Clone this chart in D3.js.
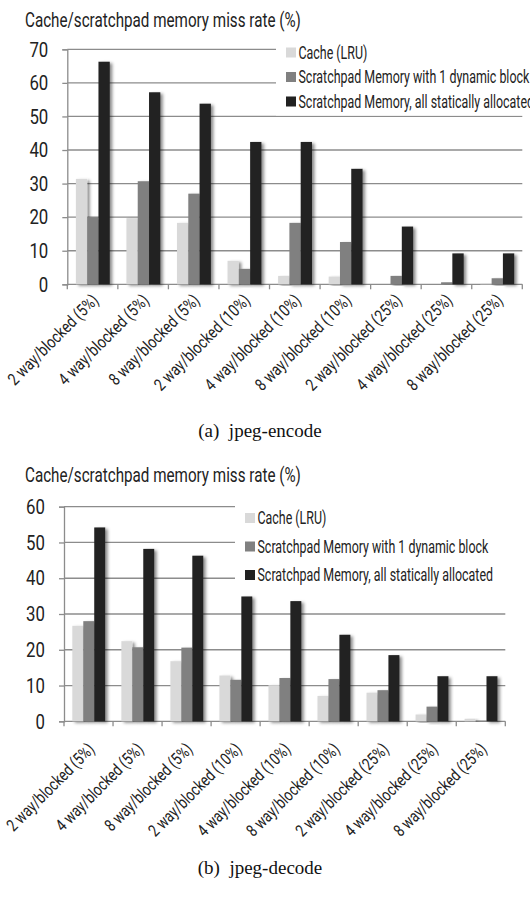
<!DOCTYPE html>
<html>
<head>
<meta charset="utf-8">
<script src="https://cdn.jsdelivr.net/npm/d3@7"></script>
<style>
  body { margin: 0; background: #fff; }
  svg { display: block; }
</style>
</head>
<body>
<div id="chart"></div>
<script>
// DATA
var categories = [
  "2 way/blocked (5%)", "4 way/blocked (5%)", "8 way/blocked (5%)",
  "2 way/blocked (10%)", "4 way/blocked (10%)", "8 way/blocked (10%)",
  "2 way/blocked (25%)", "4 way/blocked (25%)", "8 way/blocked (25%)"
];
var seriesNames = [
  "Cache (LRU)",
  "Scratchpad Memory with 1 dynamic block",
  "Scratchpad Memory, all statically allocated"
];
var encodeCache   = [31.4, 19.7, 18.3, 7.0, 2.5, 2.3, 0.0, 0.0, 0.2];
var encodeDynamic = [20.0, 30.7, 27.0, 4.6, 18.3, 12.6, 2.5, 0.6, 1.8];
var encodeStatic  = [66.3, 57.2, 53.8, 42.4, 42.4, 34.4, 17.2, 9.2, 9.2];
var decodeCache   = [26.7, 22.4, 16.8, 12.8, 10.1, 7.1, 8.0, 1.9, 0.7];
var decodeDynamic = [28.0, 20.7, 20.6, 11.6, 12.1, 11.8, 8.7, 4.1, 0.2];
var decodeStatic  = [54.2, 48.2, 46.3, 34.9, 33.6, 24.2, 18.5, 12.6, 12.6];
var encodeTicks = [0, 10, 20, 30, 40, 50, 60, 70];
var decodeTicks = [0, 10, 20, 30, 40, 50, 60];
var yTitle = "Cache/scratchpad memory miss rate (%)";

var series_color = ["#d9d9d9", "#808080", "#212121"];
var grid_color = "#8c8c8c";
var label_font = "Roboto, 'DejaVu Sans', sans-serif";

var svg = d3.select("#chart").append("svg")
  .attr("width", 530)
  .attr("height", 898);

var defs = svg.append("defs");
defs.append("filter")
    .attr("id", "shadow")
    .attr("x", "-50%").attr("y", "-10%")
    .attr("width", "200%").attr("height", "130%")
  .append("feDropShadow")
    .attr("dx", 2.5)
    .attr("dy", 1.5)
    .attr("stdDeviation", 1.8)
    .attr("flood-color", "#000")
    .attr("flood-opacity", 0.45);

// squeeze text horizontally to mimic the narrow font of the original.
// end-anchored text is turned into start-anchored text so it still ends at its anchor
function squeeze(sel, k) {
  sel.each(function() {
    var t = d3.select(this);
    var len = this.getComputedTextLength() * k;
    t.attr("textLength", len).attr("lengthAdjust", "spacingAndGlyphs");
    var anchor = t.attr("text-anchor") || this.parentNode.getAttribute("text-anchor");
    if (anchor == "end") {
      var x0 = +(t.attr("x") || 0);
      t.attr("text-anchor", "start").attr("x", x0 - len);
    }
  });
}

function drawChart(cfg) {
  var g = svg.append("g");
  var values = [cfg.cache, cfg.dynamic, cfg.stat];
  var ymax = cfg.ticks[cfg.ticks.length - 1];

  var x = d3.scaleBand()
    .domain(categories)
    .range([cfg.x0, cfg.x1])
    .padding(0);
  var bw = x.bandwidth();
  var xs = d3.scaleBand()
    .domain([0, 1, 2])
    .range([bw * 0.17, bw * 0.84])
    .padding(0);
  var y = d3.scaleLinear()
    .domain([0, ymax])
    .range([cfg.y0, cfg.ytop]);

  // title
  g.append("text")
    .attr("x", 25)
    .attr("y", cfg.titleY)
    .attr("font-family", label_font)
    .attr("font-size", 20)
    .attr("fill", "#222")
    .text(yTitle)
    .call(squeeze, 0.76);

  // gridlines
  g.append("g").selectAll("line")
    .data(cfg.ticks.filter(function(t) { return t > 0; }))
    .enter().append("line")
      .attr("x1", cfg.x0)
      .attr("x2", cfg.x1)
      .attr("y1", function(t) { return y(t); })
      .attr("y2", function(t) { return y(t); })
      .attr("stroke", grid_color)
      .attr("stroke-width", 1.3);

  // y axis
  var yAxis = g.append("g")
    .attr("transform", "translate(" + cfg.x0 + ",0)")
    .call(d3.axisLeft(y).tickValues(cfg.ticks).tickSize(5).tickPadding(14));
  yAxis.select(".domain").attr("stroke", grid_color).attr("stroke-width", 1.3);
  yAxis.selectAll(".tick line").attr("stroke", grid_color).attr("stroke-width", 1.3);
  yAxis.selectAll(".tick text")
    .attr("font-family", label_font)
    .attr("font-size", 21)
    .attr("fill", "#222")
    .call(squeeze, 0.8);

  // x axis line and ticks on category boundaries
  var bounds = categories.map(function(c) { return x(c); }).concat([cfg.x1]);
  g.append("line")
    .attr("x1", cfg.x0).attr("x2", cfg.x1)
    .attr("y1", cfg.y0).attr("y2", cfg.y0)
    .attr("stroke", grid_color)
    .attr("stroke-width", 1.3);
  g.append("g").selectAll("line")
    .data(bounds)
    .enter().append("line")
      .attr("x1", function(b) { return b; })
      .attr("x2", function(b) { return b; })
      .attr("y1", cfg.y0)
      .attr("y2", cfg.y0 + 5)
      .attr("stroke", grid_color)
      .attr("stroke-width", 1.3);

  // legend background hides the top gridlines
  g.append("rect")
    .attr("x", cfg.legX - 10)
    .attr("y", cfg.legY - 14)
    .attr("width", 530 - cfg.legX + 10)
    .attr("height", cfg.legStep * 2 + 28)
    .attr("fill", "#fff");

  // bars
  var groups = g.append("g").selectAll("g")
    .data(categories)
    .enter().append("g")
      .attr("transform", function(c) { return "translate(" + x(c) + ",0)"; });
  groups.selectAll("rect")
    .data(function(c, i) { return values.map(function(v, s) { return {s: s, v: v[i]}; }); })
    .enter().append("rect")
      .attr("x", function(d) { return xs(d.s); })
      .attr("width", xs.bandwidth())
      .attr("y", function(d) { return y(d.v); })
      .attr("height", function(d) { return cfg.y0 - y(d.v); })
      .attr("fill", function(d) { return series_color[d.s]; })
      .attr("filter", "url(#shadow)");

  // category labels, all squeezed by the same factor
  var labels = g.append("g").selectAll("text")
    .data(categories)
    .enter().append("text")
      .attr("transform", function(c) {
        return "translate(" + (x(c) + bw / 2 + cfg.labDx) + "," + (cfg.y0 + cfg.labDy) + ") rotate(-45)";
      })
      .attr("text-anchor", "end")
      .attr("font-family", label_font)
      .attr("font-size", 17)
      .attr("fill", "#222")
      .text(function(c) { return c; });
  var k = cfg.labLen / labels.node().getComputedTextLength();
  labels.call(squeeze, k);

  // legend
  var leg = g.append("g").selectAll("g")
    .data(seriesNames)
    .enter().append("g")
      .attr("transform", function(n, i) { return "translate(" + cfg.legX + "," + (cfg.legY + i * cfg.legStep) + ")"; });
  leg.append("rect")
    .attr("x", 0).attr("y", -5)
    .attr("width", 10).attr("height", 10)
    .attr("fill", function(n, i) { return series_color[i]; });
  leg.append("text")
    .attr("x", 12.5)
    .attr("y", 6)
    .attr("font-family", label_font)
    .attr("font-size", 18)
    .attr("fill", "#222")
    .text(function(n) { return n; })
    .call(squeeze, 0.69);

  // caption
  svg.append("text")
    .attr("x", 260)
    .attr("y", cfg.captionY)
    .attr("text-anchor", "middle")
    .attr("font-family", "'Liberation Serif', 'Times New Roman', serif")
    .attr("font-size", 19)
    .attr("fill", "#111")
    .style("white-space", "pre")
    .text(cfg.caption);
}

drawChart({
  cache: encodeCache, dynamic: encodeDynamic, stat: encodeStatic,
  ticks: encodeTicks,
  x0: 67.3, x1: 522.3, y0: 284.3, ytop: 49.3,
  titleY: 27, legX: 286, legY: 52.5, legStep: 24.5,
  labDx: 7, labDy: 17, labLen: 120,
  captionY: 437, caption: "(a)  jpeg-encode"
});

drawChart({
  cache: decodeCache, dynamic: decodeDynamic, stat: decodeStatic,
  ticks: decodeTicks,
  x0: 64, x1: 505.3, y0: 721.3, ytop: 506.7,
  titleY: 482, legX: 245, legY: 518, legStep: 28.5,
  labDx: 7, labDy: 29, labLen: 116,
  captionY: 874, caption: "(b)  jpeg-decode"
});
</script>
</body>
</html>
